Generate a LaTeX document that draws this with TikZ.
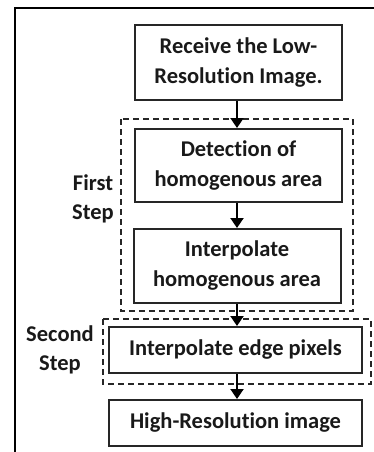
\documentclass[tikz,border=0pt]{standalone}
\usepackage{fontspec}
\setmainfont[Ligatures=NoCommon]{Carlito}
\usetikzlibrary{arrows.meta,calc}
\begin{document}
\begin{tikzpicture}[x=1pt,y=-1pt,
  box/.style={draw=black!85,line width=2pt,inner sep=0pt,align=center,font=\fontsize{22.5}{30}\selectfont\bfseries,text=black!90},
  grp/.style={draw=black!85,line width=1.3pt,dash pattern=on 6pt off 4pt},
  lbl/.style={align=center,inner sep=0pt,font=\fontsize{22.5}{29}\selectfont\bfseries,text=black!90},
  arr/.style={line width=2pt,-{Triangle[length=10pt,width=13pt]}}]
\useasboundingbox (0,0) rectangle (374,452);
\draw[line width=2pt] (14,8.5) -- (374,8.5);
\draw[line width=2pt] (15,8.5) -- (15,452);
\draw[grp] (121,119) rectangle (353,311);
\draw[grp] (103,319) rectangle (371,384);
\node[box,minimum width=207pt,minimum height=75pt] (b1) at (238.5,62.5) {Receive the Low-\\Resolution Image.};
\node[box,minimum width=207pt,minimum height=73pt] (b2) at (238.5,165.5) {Detection of\\homogenous area};
\node[box,minimum width=207pt,minimum height=74pt] (b3) at (237,266) {Interpolate\\homogenous area};
\node[box,minimum width=253pt,minimum height=46pt] (b4) at (235.5,350) {Interpolate edge pixels};
\node[box,minimum width=253pt,minimum height=46pt] (b5) at (235.5,423) {High-Resolution image};
\node[lbl] (l1) at (93,199) {First\\Step};
\node[lbl] (l2) at (60,350) {Second\\Step};
\coordinate (ax) at (237,0);
\draw[arr] (b1.south -| ax) -- (b2.north -| ax);
\draw[arr] (b2.south -| ax) -- (b3.north -| ax);
\draw[arr] (b3.south -| ax) -- (b4.north -| ax);
\draw[arr] (b4.south -| ax) -- (b5.north -| ax);
\end{tikzpicture}
\end{document}
